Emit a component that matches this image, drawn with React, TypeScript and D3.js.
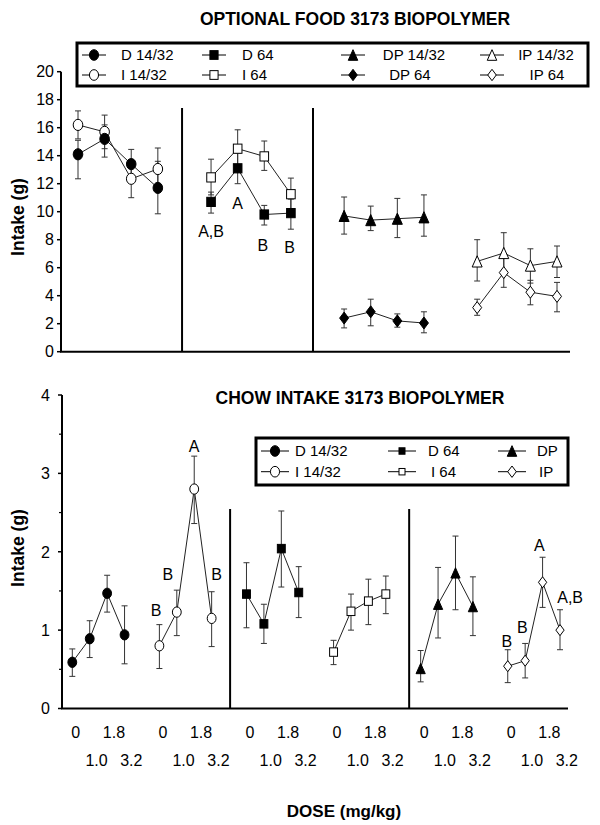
import React from "react";
import * as d3 from "d3";

// ---------- DATA ----------
const doseRow1 = ["0", "", "1.8", ""];
const doseRow2 = ["", "1.0", "", "3.2"];

// Top panel: optional food intake (g)
const topD1432 = [14.1, 15.2, 13.4, 11.7];
const topD1432Hi = [15.1, 16.2, 14.45, 13.6];
const topD1432Lo = [12.35, 13.9, 12.4, 9.85];
const topI1432 = [16.2, 15.7, 12.35, 13.05];
const topI1432Hi = [17.2, 16.9, 13.7, 14.55];
const topI1432Lo = [15.2, 14.5, 11.0, 11.5];
const topD64 = [10.7, 13.1, 9.8, 9.9];
const topD64Hi = [11.4, 14.2, 10.45, 10.9];
const topD64Lo = [9.9, 12.0, 9.05, 8.75];
const topI64 = [12.45, 14.5, 13.95, 11.25];
const topI64Hi = [13.75, 15.85, 15.05, 12.4];
const topI64Lo = [11.2, 13.2, 12.95, 10.1];
const topDP1432 = [9.7, 9.4, 9.5, 9.6];
const topDP1432Hi = [11.05, 10.4, 10.95, 11.2];
const topDP1432Lo = [8.4, 8.65, 8.15, 8.25];
const topDP64 = [2.4, 2.85, 2.2, 2.05];
const topDP64Hi = [3.05, 3.75, 2.7, 2.85];
const topDP64Lo = [1.7, 1.85, 1.75, 1.35];
const topIP1432 = [6.45, 7.05, 6.15, 6.45];
const topIP1432Hi = [8.0, 8.5, 7.35, 7.55];
const topIP1432Lo = [5.05, 5.6, 4.9, 5.3];
const topIP64 = [3.15, 5.65, 4.25, 3.95];
const topIP64Hi = [3.75, 6.9, 5.1, 4.95];
const topIP64Lo = [2.6, 4.6, 3.35, 2.85];

const topLetters = ["A,B", "A", "B", "B"];
const topLetterSlot = [5, 6, 6.95, 7.95];
const topLetterVal = [8.57, 10.6, 7.62, 7.46];
const topDividers = [3.91, 8.83];
const topYTicks = [0, 2, 4, 6, 8, 10, 12, 14, 16, 18, 20];

// Bottom panel: chow intake (g)
const botD1432 = [0.59, 0.89, 1.47, 0.94];
const botD1432Hi = [0.76, 1.12, 1.7, 1.31];
const botD1432Lo = [0.41, 0.65, 1.23, 0.57];
const botI1432 = [0.8, 1.23, 2.8, 1.15];
const botI1432Hi = [1.07, 1.51, 3.22, 1.49];
const botI1432Lo = [0.51, 0.93, 2.36, 0.79];
const botD64 = [1.46, 1.08, 2.04, 1.48];
const botD64Hi = [1.86, 1.33, 2.52, 1.81];
const botD64Lo = [1.03, 0.83, 1.55, 1.16];
const botI64 = [0.72, 1.24, 1.37, 1.46];
const botI64Hi = [0.87, 1.46, 1.65, 1.69];
const botI64Lo = [0.56, 1.0, 1.07, 1.21];
const botDP = [0.51, 1.33, 1.73, 1.3];
const botDPHi = [0.74, 1.8, 2.2, 1.68];
const botDPLo = [0.34, 0.9, 1.26, 0.93];
const botIP = [0.54, 0.61, 1.61, 1.0];
const botIPHi = [0.75, 0.83, 1.93, 1.26];
const botIPLo = [0.33, 0.39, 1.29, 0.75];

const botLetters = ["B", "B", "A", "B", "B", "B", "A", "A,B"];
const botLetterSlot = [4.81, 5.48, 6.99, 8.29, 24.95, 25.84, 26.82, 28.58];
const botLetterVal = [1.256, 1.716, 3.35, 1.716, 0.861, 1.043, 2.085, 1.418];
const botDividers = [9.06, 19.34];
const botYTicks = [0, 1, 2, 3, 4];
const botYMinor = [0.5, 1.5, 2.5, 3.5];

const topLegendLabels = ["D 14/32", "I 14/32", "D 64", "I 64", "DP 14/32", "DP 64", "IP 14/32", "IP 64"];
const botLegendLabels = ["D 14/32", "I 14/32", "D 64", "I 64", "DP", "IP"];

// ---------- helpers ----------
type Shape = "circle" | "square" | "triangle" | "diamond";
interface Series {
  shape: Shape;
  filled: boolean;
  start: number;
  v: number[];
  hi: number[];
  lo: number[];
}

const FONT = "'Liberation Sans', Arial, Helvetica, sans-serif";

function Marker({ shape, filled, x, y, k }: { shape: Shape; filled: boolean; x: number; y: number; k: number }) {
  const fill = filled ? "#000" : "#fff";
  const common = { fill, stroke: "#000", strokeWidth: 1 };
  if (shape === "circle") return <ellipse cx={x} cy={y} rx={4.8 * k} ry={5.6 * k} {...common} />;
  if (shape === "square") return <rect x={x - 4.3 * k} y={y - 4.6 * k} width={8.6 * k} height={9.2 * k} {...common} />;
  if (shape === "triangle") {
    const w = 5 * k, h = 5.6 * k;
    return <path d={`M${x},${y - h}L${x + w},${y + h}L${x - w},${y + h}Z`} {...common} />;
  }
  const w = 4.5 * k, h = 6 * k;
  return <path d={`M${x},${y - h}L${x + w},${y}L${x},${y + h}L${x - w},${y}Z`} {...common} />;
}

function Panel({
  series, x, y, k, cap,
}: { series: Series[]; x: d3.ScaleLinear<number, number>; y: d3.ScaleLinear<number, number>; k: number; cap: number }) {
  const line = d3.line<number>().x((_, i) => 0).y((d) => y(d));
  return (
    <g>
      {series.map((s, si) => {
        const l = d3
          .line<number>()
          .x((_, i) => x(s.start + i))
          .y((d) => y(d));
        return <path key={"l" + si} d={l(s.v) || ""} fill="none" stroke="#222" strokeWidth={1} />;
      })}
      {series.map((s, si) =>
        s.v.map((_, i) => {
          const cx = x(s.start + i);
          return (
            <g key={"e" + si + "-" + i} stroke="#333" strokeWidth={1}>
              <line x1={cx} x2={cx} y1={y(s.hi[i])} y2={y(s.lo[i])} />
              <line x1={cx - cap} x2={cx + cap} y1={y(s.hi[i])} y2={y(s.hi[i])} />
              <line x1={cx - cap} x2={cx + cap} y1={y(s.lo[i])} y2={y(s.lo[i])} />
            </g>
          );
        })
      )}
      {series.map((s, si) =>
        s.v.map((d, i) => (
          <Marker key={"m" + si + "-" + i} shape={s.shape} filled={s.filled} x={x(s.start + i)} y={y(d)} k={k} />
        ))
      )}
    </g>
  );
}

export default function App() {
  // scales
  const xTop = d3.scaleLinear().domain([0, 18]).range([78, 557]);
  const yTop = d3.scaleLinear().domain([0, 20]).range([351.7, 71.7]);
  const xBot = d3.scaleLinear().domain([0, 28]).range([72.3, 560]);
  const yBot = d3.scaleLinear().domain([0, 4]).range([708.5, 395]);

  const topSeries: Series[] = [
    { shape: "circle", filled: false, start: 0, v: topI1432, hi: topI1432Hi, lo: topI1432Lo },
    { shape: "circle", filled: true, start: 0, v: topD1432, hi: topD1432Hi, lo: topD1432Lo },
    { shape: "square", filled: false, start: 5, v: topI64, hi: topI64Hi, lo: topI64Lo },
    { shape: "square", filled: true, start: 5, v: topD64, hi: topD64Hi, lo: topD64Lo },
    { shape: "triangle", filled: true, start: 10, v: topDP1432, hi: topDP1432Hi, lo: topDP1432Lo },
    { shape: "diamond", filled: true, start: 10, v: topDP64, hi: topDP64Hi, lo: topDP64Lo },
    { shape: "triangle", filled: false, start: 15, v: topIP1432, hi: topIP1432Hi, lo: topIP1432Lo },
    { shape: "diamond", filled: false, start: 15, v: topIP64, hi: topIP64Hi, lo: topIP64Lo },
  ];
  const botSeries: Series[] = [
    { shape: "circle", filled: true, start: 0, v: botD1432, hi: botD1432Hi, lo: botD1432Lo },
    { shape: "circle", filled: false, start: 5, v: botI1432, hi: botI1432Hi, lo: botI1432Lo },
    { shape: "square", filled: true, start: 10, v: botD64, hi: botD64Hi, lo: botD64Lo },
    { shape: "square", filled: false, start: 15, v: botI64, hi: botI64Hi, lo: botI64Lo },
    { shape: "triangle", filled: true, start: 20, v: botDP, hi: botDPHi, lo: botDPLo },
    { shape: "diamond", filled: false, start: 25, v: botIP, hi: botIPHi, lo: botIPLo },
  ];

  // legend specs
  const topLegShapes: [Shape, boolean][] = [
    ["circle", true], ["circle", false], ["square", true], ["square", false],
    ["triangle", true], ["diamond", true], ["triangle", false], ["diamond", false],
  ];
  const topLegSymX = [94, 94, 214, 214, 353, 353, 492, 492];
  const topLegTextX = [121, 121, 242, 242, 414, 410, 546, 547];
  const topLegAnchor = ["start", "start", "start", "start", "middle", "middle", "middle", "middle"];
  const topLegRowY = [55, 75];

  const botLegShapes: [Shape, boolean][] = [
    ["circle", true], ["circle", false], ["square", true], ["square", false], ["triangle", true], ["diamond", false],
  ];
  const botLegSymX = [275, 275, 402, 402, 512, 512];
  const botLegTextX = [295, 295, 428, 431, 537, 539];
  const botLegRowY = [451, 471.7];

  const groupsTop = [0, 5, 10, 15];
  const groupsBot = [0, 5, 10, 15, 20, 25];

  return (
    <svg
      width={600}
      height={825}
      viewBox="0 0 600 825"
      style={{ position: "absolute", left: 0, top: 0, background: "#fff" }}
      fontFamily={FONT}
    >
      <rect x={0} y={0} width={600} height={825} fill="#fff" />

      {/* ---------- TOP PANEL ---------- */}
      <text x={355} y={25} textAnchor="middle" fontWeight="bold" fontSize={17.5}>
        OPTIONAL FOOD 3173 BIOPOLYMER
      </text>

      {/* y axis */}
      <line x1={61} x2={61} y1={yTop(20)} y2={yTop(0)} stroke="#000" strokeWidth={2} />
      {topYTicks.map((t) => (
        <g key={"ty" + t}>
          <line x1={57} x2={61} y1={yTop(t)} y2={yTop(t)} stroke="#000" strokeWidth={1.5} />
          <text x={54} y={yTop(t)} dy="0.36em" textAnchor="end" fontSize={16}>
            {t}
          </text>
        </g>
      ))}
      <line x1={60} x2={570} y1={yTop(0)} y2={yTop(0)} stroke="#000" strokeWidth={2} />
      {topDividers.map((s, i) => (
        <line key={"td" + i} x1={xTop(s)} x2={xTop(s)} y1={108} y2={yTop(0)} stroke="#000" strokeWidth={2} />
      ))}
      <text transform={`translate(24,217) rotate(-90)`} textAnchor="middle" fontWeight="bold" fontSize={17.5}>
        Intake (g)
      </text>

      <Panel series={topSeries} x={xTop} y={yTop} k={1} cap={3} />

      {topLetters.map((t, i) => (
        <text key={"tl" + i} x={xTop(topLetterSlot[i])} y={yTop(topLetterVal[i])} dy="0.36em" textAnchor="middle" fontSize={16}>
          {t}
        </text>
      ))}

      {/* top legend */}
      <rect x={77} y={43} width={511} height={43} fill="#fff" stroke="#000" strokeWidth={3} />
      {topLegendLabels.map((lab, i) => {
        const ry = topLegRowY[i % 2];
        const sx = topLegSymX[i];
        const [shape, filled] = topLegShapes[i];
        return (
          <g key={"tleg" + i}>
            <line x1={sx - 12} x2={sx + 12} y1={ry} y2={ry} stroke="#000" strokeWidth={1} />
            <Marker shape={shape} filled={filled} x={sx} y={ry} k={0.95} />
            <text x={topLegTextX[i]} y={ry} dy="0.36em" textAnchor={topLegAnchor[i] as any} fontSize={15}>
              {lab}
            </text>
          </g>
        );
      })}

      {/* ---------- BOTTOM PANEL ---------- */}
      <text x={360} y={404} textAnchor="middle" fontWeight="bold" fontSize={17.5}>
        CHOW INTAKE 3173 BIOPOLYMER
      </text>

      <line x1={62} x2={62} y1={yBot(4)} y2={yBot(0)} stroke="#000" strokeWidth={2} />
      {botYTicks.map((t) => (
        <g key={"by" + t}>
          <line x1={58} x2={62} y1={yBot(t)} y2={yBot(t)} stroke="#000" strokeWidth={1.5} />
          <text x={50} y={yBot(t)} dy="0.36em" textAnchor="end" fontSize={16}>
            {t}
          </text>
        </g>
      ))}
      {botYMinor.map((t) => (
        <line key={"bym" + t} x1={59} x2={62} y1={yBot(t)} y2={yBot(t)} stroke="#000" strokeWidth={1.2} />
      ))}
      <line x1={61} x2={568} y1={yBot(0)} y2={yBot(0)} stroke="#000" strokeWidth={2} />
      {botDividers.map((s, i) => (
        <line key={"bd" + i} x1={xBot(s)} x2={xBot(s)} y1={509} y2={yBot(0)} stroke="#000" strokeWidth={2} />
      ))}
      <text transform={`translate(24,548) rotate(-90)`} textAnchor="middle" fontWeight="bold" fontSize={17.5}>
        Intake (g)
      </text>

      <Panel series={botSeries} x={xBot} y={yBot} k={0.92} cap={3} />

      {botLetters.map((t, i) => (
        <text key={"bl" + i} x={xBot(botLetterSlot[i])} y={yBot(botLetterVal[i])} dy="0.36em" textAnchor="middle" fontSize={16}>
          {t}
        </text>
      ))}

      {/* bottom legend */}
      <rect x={256} y={438} width={312} height={47} fill="#fff" stroke="#000" strokeWidth={3} />
      {botLegendLabels.map((lab, i) => {
        const ry = botLegRowY[i % 2];
        const sx = botLegSymX[i];
        const [shape, filled] = botLegShapes[i];
        return (
          <g key={"bleg" + i}>
            <line x1={sx - 14} x2={sx + 14} y1={ry} y2={ry} stroke="#000" strokeWidth={1} />
            <Marker shape={shape} filled={filled} x={sx} y={ry} k={shape === "square" ? 0.7 : 0.95} />
            <text x={botLegTextX[i]} y={ry} dy="0.36em" textAnchor="start" fontSize={15}>
              {lab}
            </text>
          </g>
        );
      })}

      {/* dose labels */}
      {groupsBot.map((g) =>
        doseRow1.map((lab, i) =>
          lab ? (
            <text key={`r1-${g}-${i}`} x={xBot(g + i) + (lab === "0" ? 3.5 : 6.8)} y={737.5} textAnchor="middle" fontSize={16}>
              {lab}
            </text>
          ) : null
        )
      )}
      {groupsBot.map((g) =>
        doseRow2.map((lab, i) =>
          lab ? (
            <text key={`r2-${g}-${i}`} x={xBot(g + i) + 6.8} y={765.5} textAnchor="middle" fontSize={16}>
              {lab}
            </text>
          ) : null
        )
      )}
      <text x={344} y={817} textAnchor="middle" fontWeight="bold" fontSize={17}>
        DOSE (mg/kg)
      </text>
    </svg>
  );
}
